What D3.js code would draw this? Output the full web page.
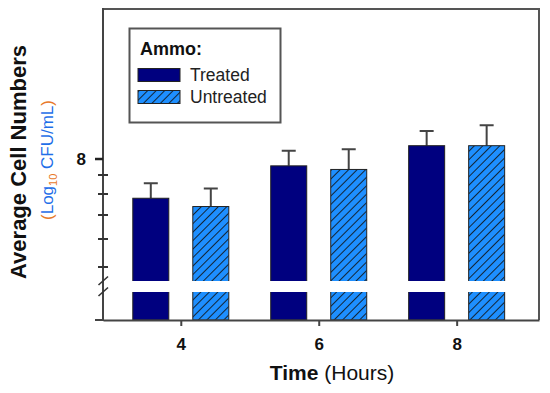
<!DOCTYPE html>
<html>
<head>
<meta charset="utf-8">
<script src="https://cdn.jsdelivr.net/npm/d3@7"></script>
<style>
  body { margin: 0; background: #fff; }
  svg { display: block; font-family: "Liberation Sans", Arial, sans-serif; }
</style>
</head>
<body>
<div id="chart"></div>
<script>
const width = 550;
const height = 393;

// data (log10 CFU/mL)
const hours = [4, 6, 8];
const treated = [7.891, 7.981, 8.037];
const treatedErr = [0.042, 0.042, 0.041];
const untreated = [7.868, 7.971, 8.037];
const untreatedErr = [0.050, 0.056, 0.057];
const yMajorTicks = [8];
const yMinorTicks = [5e7, 6e7, 7e7, 8e7, 9e7].map(v => Math.log10(v));
const seriesNames = ["Treated", "Untreated"];

const plot = { left: 103, right: 539, top: 9, bottom: 320 };

const svg = d3.select("#chart")
  .append("svg")
  .attr("width", width)
  .attr("height", height);

const defs = svg.append("defs");
const pat = defs.append("pattern")
  .attr("id", "hatch")
  .attr("patternUnits", "userSpaceOnUse")
  .attr("width", 6)
  .attr("height", 6)
  .attr("patternTransform", "rotate(45)");
pat.append("rect").attr("width", 6).attr("height", 6).attr("fill", "#1e8fff");
pat.append("line")
  .attr("x1", 0).attr("y1", 0).attr("x2", 0).attr("y2", 6)
  .attr("stroke", "#111").attr("stroke-width", 1.7);

// scales
const x = d3.scaleLinear()
  .domain([2.872, 9.194])
  .range([plot.left, plot.right]);

const y = d3.scaleLinear()
  .domain([7.5528, 8.4167])
  .range([plot.bottom, plot.top]);

const barW = 36;
const offset = 30;

const rows = hours.map((h, i) => [
  { h, v: treated[i], e: treatedErr[i], dx: -offset, fill: "#00007f" },
  { h, v: untreated[i], e: untreatedErr[i], dx: offset, fill: "url(#hatch)" }
]).flat();

// frame (top and right)
svg.append("path")
  .attr("d", `M${plot.left},${plot.top}H${plot.right}V${plot.bottom}`)
  .attr("fill", "none")
  .attr("stroke", "#555")
  .attr("stroke-width", 2);

// error bars
svg.selectAll(".err")
  .data(rows)
  .enter()
  .append("path")
  .attr("class", "err")
  .attr("d", d => {
    const cx = x(d.h) + d.dx;
    return `M${cx},${y(d.v)}V${y(d.v + d.e)}M${cx - 7},${y(d.v + d.e)}H${cx + 7}`;
  })
  .attr("fill", "none")
  .attr("stroke", "#444")
  .attr("stroke-width", 2);

// bars
svg.selectAll(".bar")
  .data(rows)
  .enter()
  .append("rect")
  .attr("class", "bar")
  .attr("x", d => x(d.h) + d.dx - barW / 2)
  .attr("y", d => y(d.v))
  .attr("width", barW)
  .attr("height", d => y.range()[0] - y(d.v))
  .attr("fill", d => d.fill)
  .attr("stroke", "#222")
  .attr("stroke-width", 1);

// axis break band
svg.append("rect")
  .attr("x", plot.left + 1)
  .attr("y", 281)
  .attr("width", plot.right - plot.left - 2)
  .attr("height", 11)
  .attr("fill", "#fff");

// x axis
const xAxis = svg.append("g")
  .attr("transform", `translate(0,${plot.bottom})`)
  .call(d3.axisBottom(x)
    .tickValues(hours)
    .tickFormat(d3.format("d"))
    .tickSize(6)
    .tickSizeOuter(0)
    .tickPadding(12));
xAxis.select(".domain").attr("stroke", "#444").attr("stroke-width", 2);
xAxis.selectAll(".tick line").attr("stroke", "#444").attr("stroke-width", 2);
xAxis.selectAll(".tick text")
  .attr("font-size", 17)
  .attr("font-weight", "bold")
  .attr("font-family", "Liberation Sans, Arial, sans-serif")
  .attr("fill", "#111");

// y axis line
svg.append("line")
  .attr("x1", plot.left).attr("x2", plot.left)
  .attr("y1", plot.top - 1).attr("y2", plot.bottom + 1)
  .attr("stroke", "#444").attr("stroke-width", 2);

// bottom tick at axis origin
svg.append("line")
  .attr("x1", 95).attr("x2", plot.left)
  .attr("y1", plot.bottom).attr("y2", plot.bottom)
  .attr("stroke", "#444").attr("stroke-width", 2);

// major y ticks
svg.selectAll(".ymaj")
  .data(yMajorTicks)
  .enter()
  .append("line")
  .attr("class", "ymaj")
  .attr("x1", 95).attr("x2", plot.left)
  .attr("y1", d => y(d)).attr("y2", d => y(d))
  .attr("stroke", "#222").attr("stroke-width", 2.5);

svg.selectAll(".ylab")
  .data(yMajorTicks)
  .enter()
  .append("text")
  .attr("class", "ylab")
  .attr("x", 86)
  .attr("y", d => y(d) + 6)
  .attr("text-anchor", "end")
  .attr("font-size", 17)
  .attr("font-weight", "bold")
  .attr("fill", "#111")
  .text(d => d);

// minor y ticks
svg.selectAll(".ymin")
  .data(yMinorTicks)
  .enter()
  .append("line")
  .attr("class", "ymin")
  .attr("x1", 98).attr("x2", 108)
  .attr("y1", d => Math.round(y(d)))
  .attr("y2", d => Math.round(y(d)))
  .attr("stroke", "#333").attr("stroke-width", 2);

// break marks on y axis
[285, 296].forEach(yy => {
  svg.append("line")
    .attr("x1", 98.5).attr("y1", yy)
    .attr("x2", 108).attr("y2", yy - 8.5)
    .attr("stroke", "#333").attr("stroke-width", 1.6);
});

// axis titles
svg.append("text")
  .attr("transform", "rotate(-90)")
  .attr("x", -162)
  .attr("y", 26)
  .attr("text-anchor", "middle")
  .attr("font-size", 22)
  .attr("font-weight", "bold")
  .attr("fill", "#111")
  .text("Average Cell Numbers");

const sub = svg.append("text")
  .attr("transform", "rotate(-90)")
  .attr("x", -160)
  .attr("y", 53)
  .attr("text-anchor", "middle")
  .attr("font-size", 17)
  .attr("fill", "#1f6fe8");
sub.append("tspan").attr("fill", "#e87a2a").text("(");
sub.append("tspan").text("Log");
sub.append("tspan").attr("font-size", 11).attr("dy", 4).attr("fill", "#e87a2a").text("10");
sub.append("tspan").attr("dy", -4).text(" CFU/mL");
sub.append("tspan").attr("fill", "#e87a2a").text(")");

const xt = svg.append("text")
  .attr("x", 332)
  .attr("y", 380)
  .attr("text-anchor", "middle")
  .attr("font-size", 21)
  .attr("fill", "#111");
xt.append("tspan").attr("font-weight", "bold").text("Time");
xt.append("tspan").text(" (Hours)");

// legend
const lg = svg.append("g");
lg.append("rect")
  .attr("x", 129.5).attr("y", 28.5)
  .attr("width", 151).attr("height", 94)
  .attr("fill", "#fff")
  .attr("stroke", "#555")
  .attr("stroke-width", 2);
lg.append("text")
  .attr("x", 140).attr("y", 55)
  .attr("font-size", 18)
  .attr("font-weight", "bold")
  .attr("fill", "#111")
  .text("Ammo:");
const legendFills = ["#00007f", "url(#hatch)"];
seriesNames.forEach((name, i) => {
  lg.append("rect")
    .attr("x", 138).attr("y", 68.5 + i * 22)
    .attr("width", 42).attr("height", 13)
    .attr("fill", legendFills[i])
    .attr("stroke", "#222").attr("stroke-width", 1);
  lg.append("text")
    .attr("x", 190).attr("y", 81 + i * 21.5)
    .attr("font-size", 17.5)
    .attr("fill", "#222")
    .text(name);
});
</script>
</body>
</html>
